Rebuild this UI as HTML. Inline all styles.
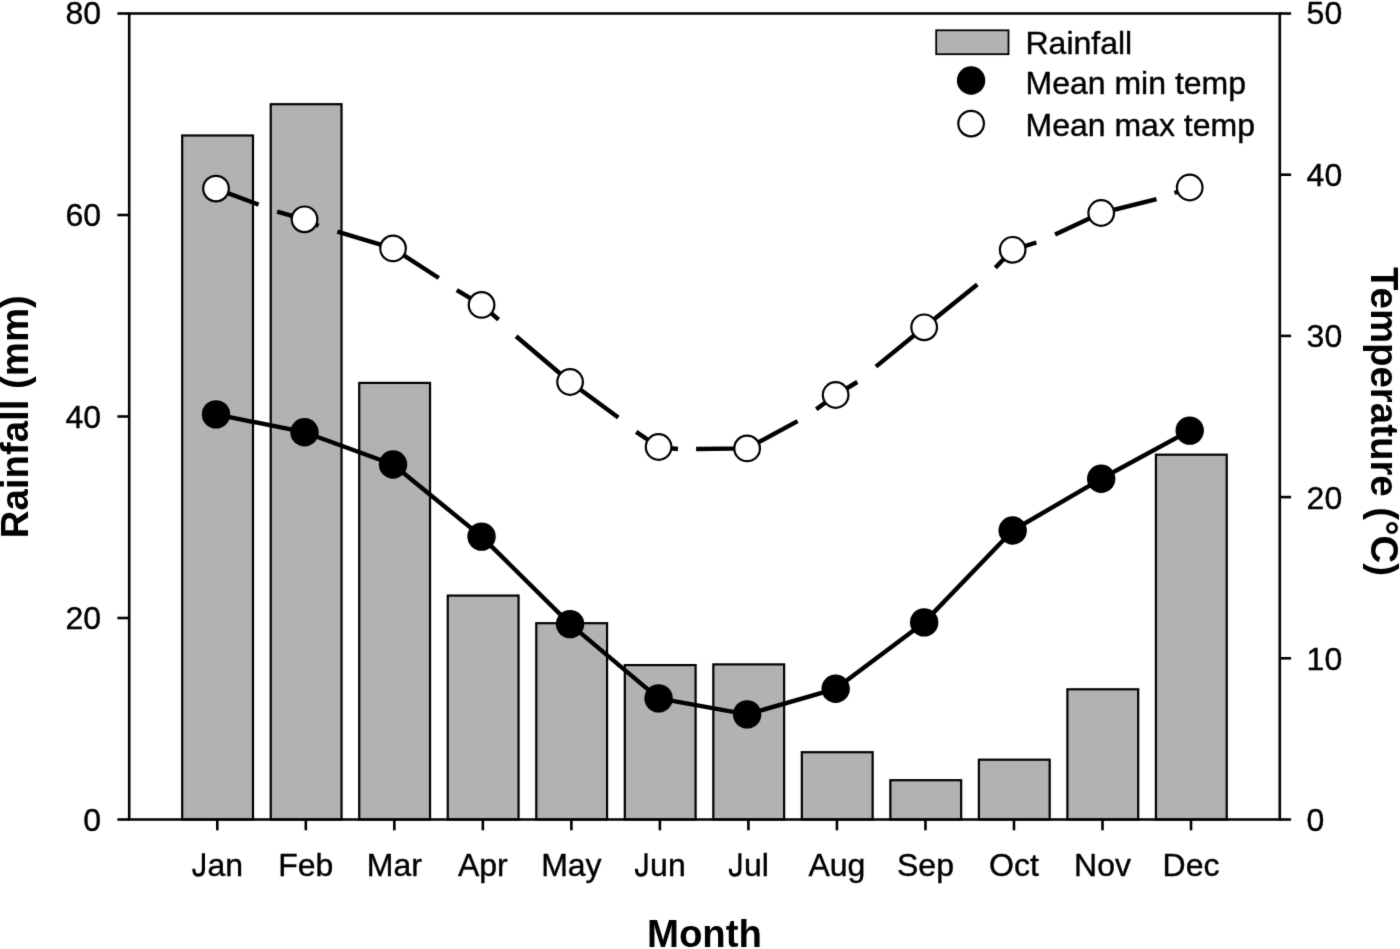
<!DOCTYPE html>
<html><head><meta charset="utf-8"><style>
html,body{margin:0;padding:0;background:#fff;width:1400px;height:949px;overflow:hidden}
svg{display:block;-webkit-font-smoothing:antialiased}
.t{font-family:"Liberation Sans",sans-serif;font-size:32px;fill:#000;stroke:#000;stroke-width:0.4px;stroke-linejoin:round}
.b{font-family:"Liberation Sans",sans-serif;font-size:38.4px;font-weight:bold;fill:#000}
</style></head><body>
<svg width="1400" height="949" viewBox="0 0 1400 949">
<defs><filter id="bl" x="0" y="0" width="1400" height="949" filterUnits="userSpaceOnUse" color-interpolation-filters="sRGB"><feConvolveMatrix order="3" kernelMatrix="0.01134 0.08382 0.01134 0.08382 0.61935 0.08382 0.01134 0.08382 0.01134" edgeMode="duplicate" preserveAlpha="true"/></filter></defs>
<g filter="url(#bl)"><rect width="1400" height="949" fill="#fff"/>
<rect x="182.20" y="135.50" width="70.80" height="684.00" fill="#b2b2b2" stroke="#000" stroke-width="2.2"/>
<rect x="270.72" y="104.20" width="70.80" height="715.30" fill="#b2b2b2" stroke="#000" stroke-width="2.2"/>
<rect x="359.24" y="382.90" width="70.80" height="436.60" fill="#b2b2b2" stroke="#000" stroke-width="2.2"/>
<rect x="447.76" y="595.60" width="70.80" height="223.90" fill="#b2b2b2" stroke="#000" stroke-width="2.2"/>
<rect x="536.28" y="623.20" width="70.80" height="196.30" fill="#b2b2b2" stroke="#000" stroke-width="2.2"/>
<rect x="624.80" y="665.10" width="70.80" height="154.40" fill="#b2b2b2" stroke="#000" stroke-width="2.2"/>
<rect x="713.32" y="664.40" width="70.80" height="155.10" fill="#b2b2b2" stroke="#000" stroke-width="2.2"/>
<rect x="801.84" y="752.20" width="70.80" height="67.30" fill="#b2b2b2" stroke="#000" stroke-width="2.2"/>
<rect x="890.36" y="780.20" width="70.80" height="39.30" fill="#b2b2b2" stroke="#000" stroke-width="2.2"/>
<rect x="978.88" y="759.70" width="70.80" height="59.80" fill="#b2b2b2" stroke="#000" stroke-width="2.2"/>
<rect x="1067.40" y="689.30" width="70.80" height="130.20" fill="#b2b2b2" stroke="#000" stroke-width="2.2"/>
<rect x="1155.92" y="454.70" width="70.80" height="364.80" fill="#b2b2b2" stroke="#000" stroke-width="2.2"/>
<polyline points="216.00,414.40 304.52,432.20 393.04,464.50 481.56,536.60 570.08,624.10 658.60,698.40 747.12,714.40 835.64,688.80 924.16,622.40 1012.68,530.50 1101.20,478.80 1189.72,430.60" fill="none" stroke="#000" stroke-width="4.4" stroke-linejoin="round"/>
<polyline points="215.70,188.60 258.60,204.60" fill="none" stroke="#000" stroke-width="4.4" stroke-linejoin="round" stroke-linecap="butt"/>
<polyline points="277.10,211.70 304.52,219.30 318.60,225.70" fill="none" stroke="#000" stroke-width="4.4" stroke-linejoin="round" stroke-linecap="butt"/>
<polyline points="337.40,231.70 393.04,248.40 438.80,278.00" fill="none" stroke="#000" stroke-width="4.4" stroke-linejoin="round" stroke-linecap="butt"/>
<polyline points="456.80,290.10 481.56,304.90 498.60,319.70" fill="none" stroke="#000" stroke-width="4.4" stroke-linejoin="round" stroke-linecap="butt"/>
<polyline points="516.10,336.30 570.08,382.00 618.30,417.40" fill="none" stroke="#000" stroke-width="4.4" stroke-linejoin="round" stroke-linecap="butt"/>
<polyline points="636.20,431.90 658.60,447.00 678.00,449.00" fill="none" stroke="#000" stroke-width="4.4" stroke-linejoin="round" stroke-linecap="butt"/>
<polyline points="696.10,449.00 747.12,448.40 797.60,421.10" fill="none" stroke="#000" stroke-width="4.4" stroke-linejoin="round" stroke-linecap="butt"/>
<polyline points="816.30,409.30 835.64,395.00 857.30,382.00" fill="none" stroke="#000" stroke-width="4.4" stroke-linejoin="round" stroke-linecap="butt"/>
<polyline points="875.90,366.60 924.16,327.30 977.30,284.50" fill="none" stroke="#000" stroke-width="4.4" stroke-linejoin="round" stroke-linecap="butt"/>
<polyline points="995.30,267.80 1012.68,249.80 1036.40,242.50" fill="none" stroke="#000" stroke-width="4.4" stroke-linejoin="round" stroke-linecap="butt"/>
<polyline points="1055.10,234.40 1101.20,213.00 1156.50,199.20" fill="none" stroke="#000" stroke-width="4.4" stroke-linejoin="round" stroke-linecap="butt"/>
<polyline points="1174.50,193.00 1189.72,187.50" fill="none" stroke="#000" stroke-width="4.4" stroke-linejoin="round" stroke-linecap="butt"/>
<circle cx="216.00" cy="414.40" r="14.2" fill="#000"/>
<circle cx="304.52" cy="432.20" r="14.2" fill="#000"/>
<circle cx="393.04" cy="464.50" r="14.2" fill="#000"/>
<circle cx="481.56" cy="536.60" r="14.2" fill="#000"/>
<circle cx="570.08" cy="624.10" r="14.2" fill="#000"/>
<circle cx="658.60" cy="698.40" r="14.2" fill="#000"/>
<circle cx="747.12" cy="714.40" r="14.2" fill="#000"/>
<circle cx="835.64" cy="688.80" r="14.2" fill="#000"/>
<circle cx="924.16" cy="622.40" r="14.2" fill="#000"/>
<circle cx="1012.68" cy="530.50" r="14.2" fill="#000"/>
<circle cx="1101.20" cy="478.80" r="14.2" fill="#000"/>
<circle cx="1189.72" cy="430.60" r="14.2" fill="#000"/>
<circle cx="216.00" cy="188.60" r="12.8" fill="#fff" stroke="#000" stroke-width="2.2"/>
<circle cx="304.52" cy="219.30" r="12.8" fill="#fff" stroke="#000" stroke-width="2.2"/>
<circle cx="393.04" cy="248.40" r="12.8" fill="#fff" stroke="#000" stroke-width="2.2"/>
<circle cx="481.56" cy="304.90" r="12.8" fill="#fff" stroke="#000" stroke-width="2.2"/>
<circle cx="570.08" cy="382.00" r="12.8" fill="#fff" stroke="#000" stroke-width="2.2"/>
<circle cx="658.60" cy="447.00" r="12.8" fill="#fff" stroke="#000" stroke-width="2.2"/>
<circle cx="747.12" cy="448.40" r="12.8" fill="#fff" stroke="#000" stroke-width="2.2"/>
<circle cx="835.64" cy="395.00" r="12.8" fill="#fff" stroke="#000" stroke-width="2.2"/>
<circle cx="924.16" cy="327.30" r="12.8" fill="#fff" stroke="#000" stroke-width="2.2"/>
<circle cx="1012.68" cy="249.80" r="12.8" fill="#fff" stroke="#000" stroke-width="2.2"/>
<circle cx="1101.20" cy="213.00" r="12.8" fill="#fff" stroke="#000" stroke-width="2.2"/>
<circle cx="1189.72" cy="187.50" r="12.8" fill="#fff" stroke="#000" stroke-width="2.2"/>
<path d="M129.2,819.5 V13.5 H1279.8 V819.5 H129.2 Z" fill="none" stroke="#000" stroke-width="2.6" stroke-linejoin="miter"/>
<line x1="117.4" y1="819.50" x2="129.2" y2="819.50" stroke="#000" stroke-width="2.6"/>
<line x1="117.4" y1="618.00" x2="129.2" y2="618.00" stroke="#000" stroke-width="2.6"/>
<line x1="117.4" y1="416.50" x2="129.2" y2="416.50" stroke="#000" stroke-width="2.6"/>
<line x1="117.4" y1="215.00" x2="129.2" y2="215.00" stroke="#000" stroke-width="2.6"/>
<line x1="117.4" y1="13.50" x2="129.2" y2="13.50" stroke="#000" stroke-width="2.6"/>
<line x1="1279.8" y1="819.50" x2="1291.1" y2="819.50" stroke="#000" stroke-width="2.6"/>
<line x1="1279.8" y1="658.30" x2="1291.1" y2="658.30" stroke="#000" stroke-width="2.6"/>
<line x1="1279.8" y1="497.10" x2="1291.1" y2="497.10" stroke="#000" stroke-width="2.6"/>
<line x1="1279.8" y1="335.90" x2="1291.1" y2="335.90" stroke="#000" stroke-width="2.6"/>
<line x1="1279.8" y1="174.70" x2="1291.1" y2="174.70" stroke="#000" stroke-width="2.6"/>
<line x1="1279.8" y1="13.50" x2="1291.1" y2="13.50" stroke="#000" stroke-width="2.6"/>
<line x1="217.30" y1="819.5" x2="217.30" y2="830.3" stroke="#000" stroke-width="2.6"/>
<line x1="305.82" y1="819.5" x2="305.82" y2="830.3" stroke="#000" stroke-width="2.6"/>
<line x1="394.34" y1="819.5" x2="394.34" y2="830.3" stroke="#000" stroke-width="2.6"/>
<line x1="482.86" y1="819.5" x2="482.86" y2="830.3" stroke="#000" stroke-width="2.6"/>
<line x1="571.38" y1="819.5" x2="571.38" y2="830.3" stroke="#000" stroke-width="2.6"/>
<line x1="659.90" y1="819.5" x2="659.90" y2="830.3" stroke="#000" stroke-width="2.6"/>
<line x1="748.42" y1="819.5" x2="748.42" y2="830.3" stroke="#000" stroke-width="2.6"/>
<line x1="836.94" y1="819.5" x2="836.94" y2="830.3" stroke="#000" stroke-width="2.6"/>
<line x1="925.46" y1="819.5" x2="925.46" y2="830.3" stroke="#000" stroke-width="2.6"/>
<line x1="1013.98" y1="819.5" x2="1013.98" y2="830.3" stroke="#000" stroke-width="2.6"/>
<line x1="1102.50" y1="819.5" x2="1102.50" y2="830.3" stroke="#000" stroke-width="2.6"/>
<line x1="1191.02" y1="819.5" x2="1191.02" y2="830.3" stroke="#000" stroke-width="2.6"/>
<text x="101" y="830.70" text-anchor="end" class="t">0</text>
<text x="101" y="629.20" text-anchor="end" class="t">20</text>
<text x="101" y="427.70" text-anchor="end" class="t">40</text>
<text x="101" y="226.20" text-anchor="end" class="t">60</text>
<text x="101" y="23.70" text-anchor="end" class="t">80</text>
<text x="1306.6" y="831.00" class="t">0</text>
<text x="1306.6" y="669.80" class="t">10</text>
<text x="1306.6" y="508.60" class="t">20</text>
<text x="1306.6" y="347.40" class="t">30</text>
<text x="1306.6" y="186.20" class="t">40</text>
<text x="1306.6" y="24.00" class="t">50</text>
<text x="217.30" y="876.2" text-anchor="middle" class="t"><tspan style="fill:none;stroke:none">J</tspan>an</text>
<path transform="translate(191.51,876.2)" d="M11.9,-22.9 V-7 C11.9,-2.2 9.6,-1.05 6.7,-1.05 C3.6,-1.05 2.3,-3 2.3,-7.4" fill="none" stroke="#000" stroke-width="3.1"/>
<text x="305.82" y="876.2" text-anchor="middle" class="t">Feb</text>
<text x="394.34" y="876.2" text-anchor="middle" class="t">Mar</text>
<text x="482.86" y="876.2" text-anchor="middle" class="t">Apr</text>
<text x="571.38" y="876.2" text-anchor="middle" class="t">May</text>
<text x="659.90" y="876.2" text-anchor="middle" class="t"><tspan style="fill:none;stroke:none">J</tspan>un</text>
<path transform="translate(634.11,876.2)" d="M11.9,-22.9 V-7 C11.9,-2.2 9.6,-1.05 6.7,-1.05 C3.6,-1.05 2.3,-3 2.3,-7.4" fill="none" stroke="#000" stroke-width="3.1"/>
<text x="748.42" y="876.2" text-anchor="middle" class="t"><tspan style="fill:none;stroke:none">J</tspan>ul</text>
<path transform="translate(727.97,876.2)" d="M11.9,-22.9 V-7 C11.9,-2.2 9.6,-1.05 6.7,-1.05 C3.6,-1.05 2.3,-3 2.3,-7.4" fill="none" stroke="#000" stroke-width="3.1"/>
<text x="836.94" y="876.2" text-anchor="middle" class="t">Aug</text>
<text x="925.46" y="876.2" text-anchor="middle" class="t">Sep</text>
<text x="1013.98" y="876.2" text-anchor="middle" class="t">Oct</text>
<text x="1102.50" y="876.2" text-anchor="middle" class="t">Nov</text>
<text x="1191.02" y="876.2" text-anchor="middle" class="t">Dec</text>
<text x="704.5" y="947.1" text-anchor="middle" class="b">Month</text>
<text transform="translate(28,416.7) rotate(-90)" text-anchor="middle" class="b">Rainfall (mm)</text>
<text transform="translate(1371.1,421.5) rotate(90)" text-anchor="middle" class="b">Temperature (°C)</text>
<rect x="936.2" y="30.3" width="72.3" height="23.9" fill="#b2b2b2" stroke="#000" stroke-width="1.8"/>
<circle cx="971.1" cy="80.5" r="14.2" fill="#000"/>
<circle cx="971.1" cy="123.6" r="12.8" fill="#fff" stroke="#000" stroke-width="2.2"/>
<text x="1025.5" y="54.1" class="t">Rainfall</text>
<text x="1025.5" y="94" class="t">Mean min temp</text>
<text x="1025.5" y="136.2" class="t">Mean max temp</text>
</g></svg>
</body></html>
